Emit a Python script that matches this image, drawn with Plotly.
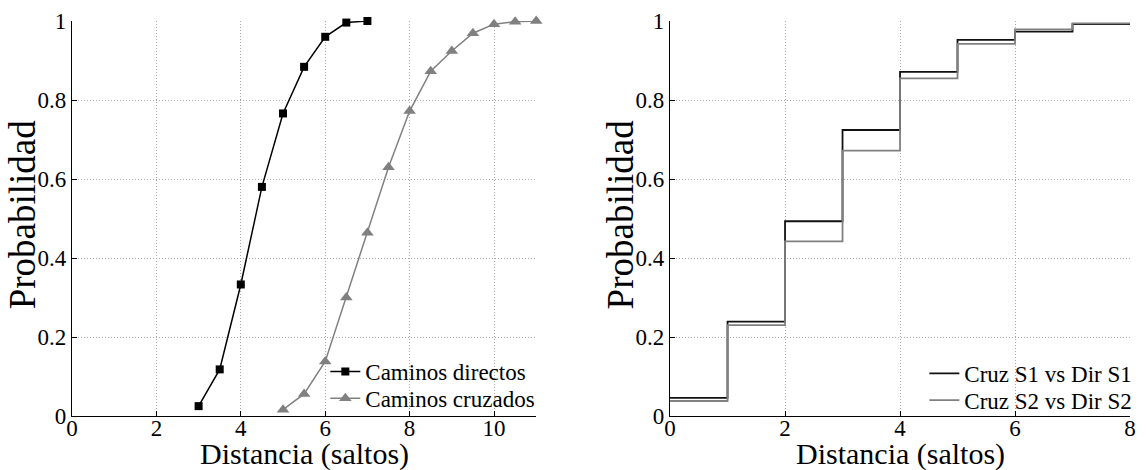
import plotly.graph_objects as go
from plotly.subplots import make_subplots

# Left panel: cumulative distribution of path length
dist_directos = [3, 3.5, 4, 4.5, 5, 5.5, 6, 6.5, 7]
prob_directos = [0.025, 0.118, 0.333, 0.58, 0.766, 0.884, 0.96, 0.996, 1.0]

dist_cruzados = [5, 5.5, 6, 6.5, 7, 7.5, 8, 8.5, 9, 9.5, 10, 10.5, 11]
prob_cruzados = [0.016, 0.056, 0.138, 0.30, 0.464, 0.63, 0.772, 0.873, 0.924, 0.969, 0.992, 0.998, 1.0]

# Right panel: step CDFs of hop distance difference
saltos = [0, 1, 2, 3, 4, 5, 6, 7, 8]
prob_s1 = [0.046, 0.239, 0.493, 0.724, 0.871, 0.952, 0.973, 0.992, 0.992]
prob_s2 = [0.038, 0.230, 0.442, 0.672, 0.855, 0.942, 0.979, 0.994, 0.994]

x_label = "Distancia (saltos)"
y_label = "Probabilidad"

FONT = "Liberation Serif, Times New Roman, serif"
GRAY = "#808080"

fig = make_subplots(rows=1, cols=2)

fig.add_trace(go.Scatter(
    x=dist_directos, y=prob_directos, mode="lines+markers", name="Caminos directos",
    line=dict(color="black", width=1.5),
    marker=dict(symbol="square", size=8, color="black"),
    cliponaxis=False, legend="legend"), row=1, col=1)
fig.add_trace(go.Scatter(
    x=dist_cruzados, y=prob_cruzados, mode="lines+markers", name="Caminos cruzados",
    line=dict(color=GRAY, width=1.5),
    marker=dict(symbol="triangle-up", size=11, color=GRAY),
    cliponaxis=False, legend="legend2"), row=1, col=1)

fig.add_trace(go.Scatter(
    x=saltos, y=prob_s1, mode="lines", name="Cruz S1 vs Dir S1",
    line=dict(color="#111111", width=1.8, shape="hv"), legend="legend3"), row=1, col=2)
fig.add_trace(go.Scatter(
    x=saltos, y=prob_s2, mode="lines", name="Cruz S2 vs Dir S2",
    line=dict(color=GRAY, width=1.8, shape="hv"), legend="legend4"), row=1, col=2)

axis_common = dict(
    showline=True, linecolor="black", linewidth=1.2, mirror=False,
    ticks="inside", ticklen=5, tickcolor="black",
    showgrid=True, gridcolor="#a8a8a8", griddash="1px,2px", gridwidth=1,
    zeroline=False, tickfont=dict(family=FONT, size=23, color="black"),
)

W, H = 1146, 470
L, R, T, B = 72, 9, 17, 54
pw = W - L - R
ph = H - T - B
left_px = (72, 539.3)
right_px = (674, 1137)


def px_x(p):
    return (p - L) / pw


def px_y(p):
    return (H - B - p) / ph


left_dom = [max(0.0, px_x(left_px[0])), min(1.0, px_x(left_px[1]))]
right_dom = [max(0.0, px_x(right_px[0])), min(1.0, px_x(right_px[1]))]

fig.update_xaxes(**axis_common, range=[0, 11], dtick=2, domain=left_dom, ticklabelstandoff=-9, row=1, col=1)
fig.update_xaxes(**axis_common, range=[0, 8], dtick=2, domain=right_dom, ticklabelstandoff=-9, row=1, col=2)
fig.update_yaxes(**axis_common, range=[0, 1], dtick=0.2, row=1, col=1)
fig.update_yaxes(**axis_common, range=[0, 1], dtick=0.2, row=1, col=2)

# Axis titles placed in paper coordinates
for (x0, x1), ytitle_x in ((left_px, 22), (right_px, 624)):
    fig.add_annotation(text=x_label, xref="paper", yref="paper",
                       x=px_x((x0 + x1) / 2), y=px_y(454), xanchor="center", yanchor="middle",
                       showarrow=False, font=dict(family=FONT, size=30, color="black"))
    fig.add_annotation(text=y_label, xref="paper", yref="paper", textangle=-90,
                       x=px_x(ytitle_x), y=px_y(212), xanchor="center", yanchor="middle",
                       showarrow=False, font=dict(family=FONT, size=37, color="black"))


def legend_at(px_left, px_row):
    return dict(
        bgcolor="rgba(0,0,0,0)", borderwidth=0, itemwidth=30,
        font=dict(family=FONT, size=23, color="black"),
        xanchor="left", yanchor="middle",
        x=px_x(px_left), y=px_y(px_row),
    )


fig.update_layout(
    width=W, height=H,
    margin=dict(l=L, r=R, t=T, b=B),
    paper_bgcolor="white", plot_bgcolor="white",
    showlegend=True,
    legend=legend_at(327, 371),
    legend2=legend_at(327, 398),
    legend3=legend_at(930, 373),
    legend4=legend_at(930, 400),
)

fig.write_html("out.html")
